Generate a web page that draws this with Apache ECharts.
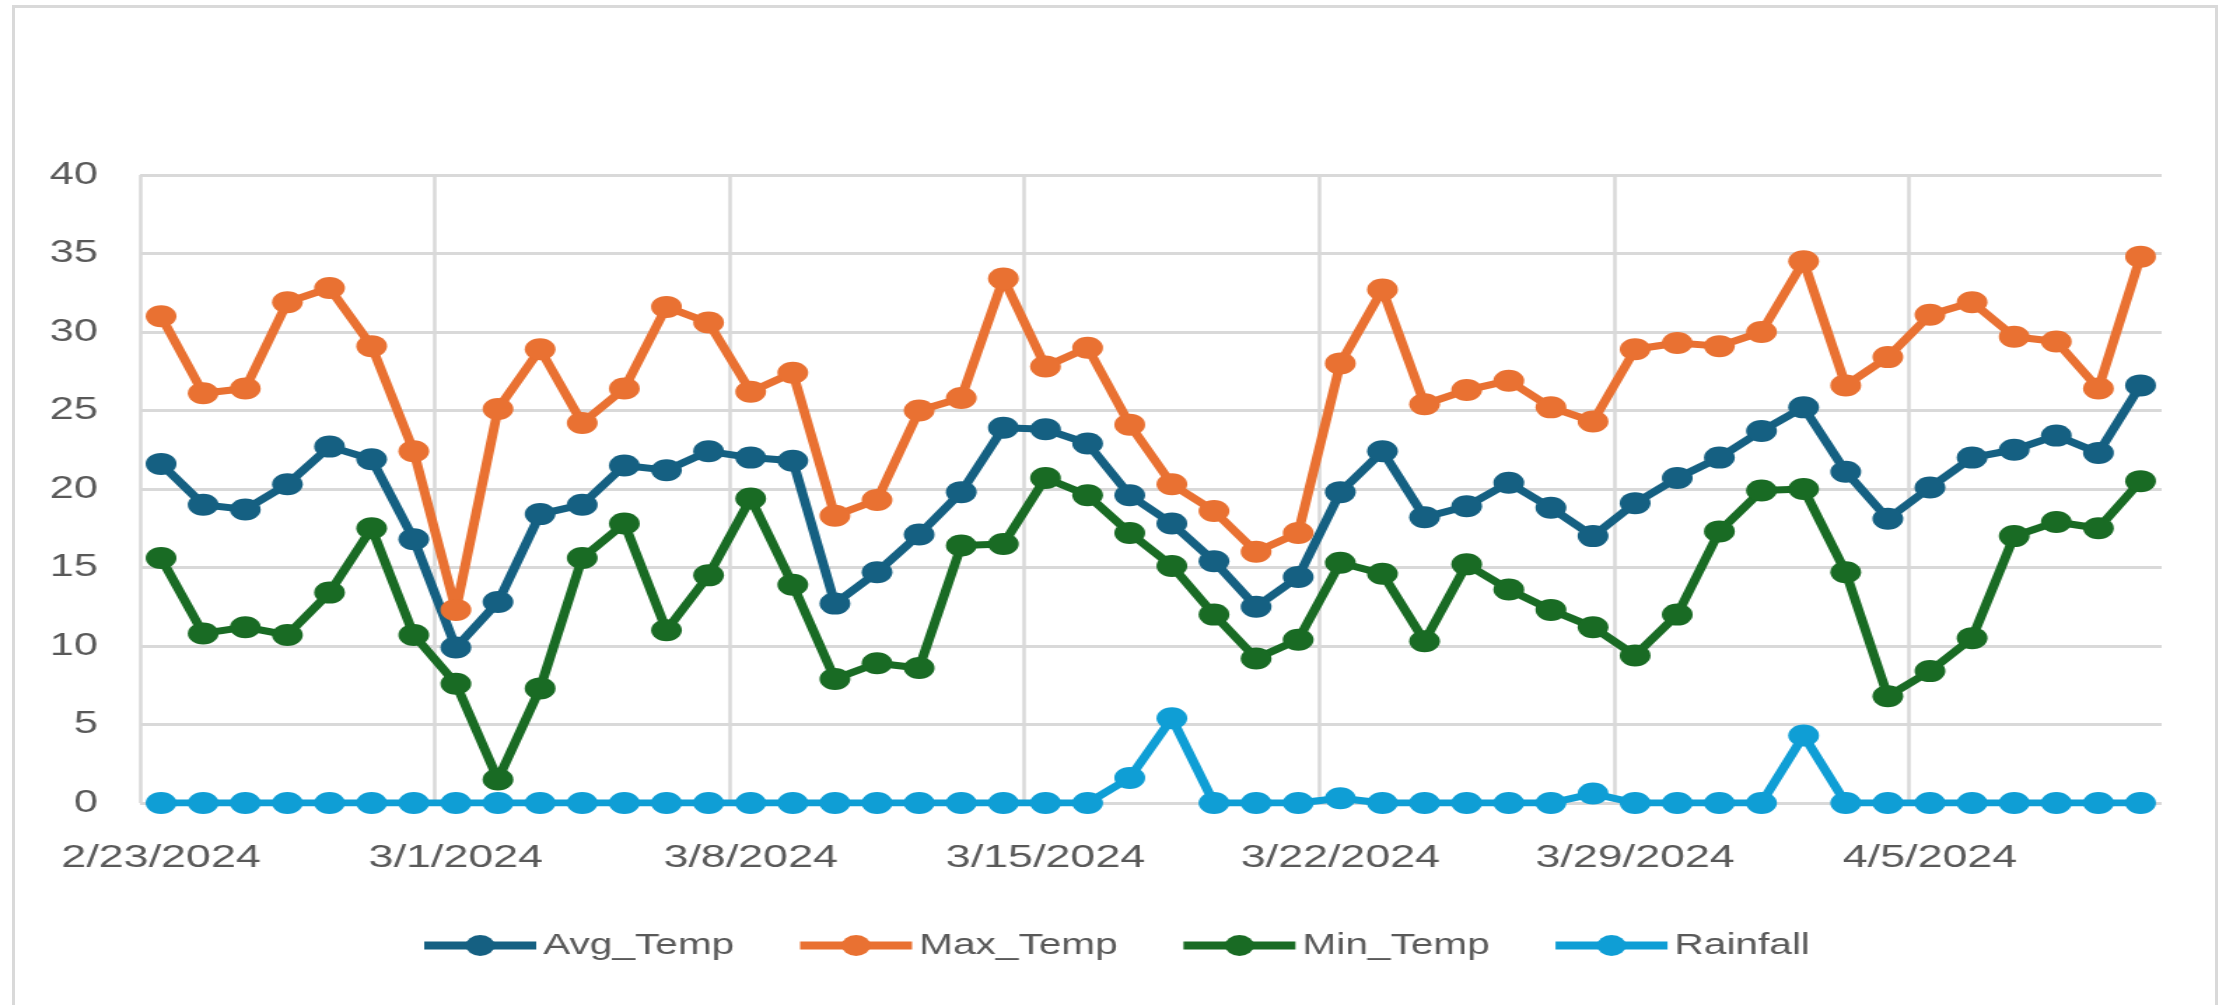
<!DOCTYPE html>
<html>
<head>
<meta charset="utf-8">
<script src="https://cdn.jsdelivr.net/npm/echarts@6/dist/echarts.min.js"></script>
<style>
  html, body { margin: 0; padding: 0; background: #ffffff; overflow: hidden; width: 2231px; height: 1005px; }
  #frame { position: absolute; left: 12px; top: 5px; width: 2206px; height: 1030px; border: 3px solid #d9d9d9; box-sizing: border-box; }
  /* the chart is laid out narrow and widened horizontally */
  #chart { position: absolute; left: 0; top: 0; width: 1594px; height: 1005px; transform: scaleX(1.4); transform-origin: 0 0; }
</style>
</head>
<body>
<div id="frame"></div>
<div id="chart"></div>
<script>
// Daily readings, 2/23/2024 – 4/10/2024
const dates = [
  '2/23/2024', '2/24/2024', '2/25/2024', '2/26/2024', '2/27/2024', '2/28/2024', '2/29/2024',
  '3/1/2024', '3/2/2024', '3/3/2024', '3/4/2024', '3/5/2024', '3/6/2024', '3/7/2024',
  '3/8/2024', '3/9/2024', '3/10/2024', '3/11/2024', '3/12/2024', '3/13/2024', '3/14/2024',
  '3/15/2024', '3/16/2024', '3/17/2024', '3/18/2024', '3/19/2024', '3/20/2024', '3/21/2024',
  '3/22/2024', '3/23/2024', '3/24/2024', '3/25/2024', '3/26/2024', '3/27/2024', '3/28/2024',
  '3/29/2024', '3/30/2024', '3/31/2024', '4/1/2024', '4/2/2024', '4/3/2024', '4/4/2024',
  '4/5/2024', '4/6/2024', '4/7/2024', '4/8/2024', '4/9/2024', '4/10/2024'
];

const avgTemp = [
  21.6, 19.0, 18.7, 20.3, 22.7, 21.9, 16.8,
  9.9, 12.8, 18.4, 19.0, 21.5, 21.2, 22.4,
  22.0, 21.8, 12.7, 14.7, 17.1, 19.8, 23.9,
  23.8, 22.9, 19.6, 17.8, 15.4, 12.5, 14.4,
  19.8, 22.4, 18.2, 18.9, 20.4, 18.8, 17.0,
  19.1, 20.7, 22.0, 23.7, 25.2, 21.1, 18.1,
  20.1, 22.0, 22.5, 23.4, 22.3, 26.6
];

const maxTemp = [
  31.0, 26.1, 26.4, 31.9, 32.8, 29.1, 22.4,
  12.3, 25.1, 28.9, 24.2, 26.4, 31.6, 30.6,
  26.2, 27.4, 18.3, 19.3, 25.0, 25.8, 33.4,
  27.8, 29.0, 24.1, 20.3, 18.6, 16.0, 17.2,
  28.0, 32.7, 25.4, 26.3, 26.9, 25.2, 24.3,
  28.9, 29.3, 29.1, 30.0, 34.5, 26.6, 28.4,
  31.1, 31.9, 29.7, 29.4, 26.4, 34.8
];

const minTemp = [
  15.6, 10.8, 11.2, 10.7, 13.4, 17.5, 10.7,
  7.6, 1.5, 7.3, 15.6, 17.8, 11.0, 14.5,
  19.4, 13.9, 7.9, 8.9, 8.6, 16.4, 16.5,
  20.7, 19.6, 17.2, 15.1, 12.0, 9.2, 10.4,
  15.3, 14.6, 10.3, 15.2, 13.6, 12.3, 11.2,
  9.4, 12.0, 17.3, 19.9, 20.0, 14.7, 6.8,
  8.4, 10.5, 17.0, 17.9, 17.5, 20.5
];

const rainfall = [
  0, 0, 0, 0, 0, 0, 0,
  0, 0, 0, 0, 0, 0, 0,
  0, 0, 0, 0, 0, 0, 0,
  0, 0, 1.6, 5.4, 0, 0, 0,
  0.3, 0, 0, 0, 0, 0, 0.6,
  0, 0, 0, 0, 4.3, 0, 0,
  0, 0, 0, 0, 0, 0
];

const yTicks = [0, 5, 10, 15, 20, 25, 30, 35, 40];

const seriesNames = ['Avg_Temp', 'Max_Temp', 'Min_Temp', 'Rainfall'];
const seriesColors = ['#156082', '#E97132', '#196B24', '#0F9ED5'];
const seriesValues = [avgTemp, maxTemp, minTemp, rainfall];

const textColor = '#595959';
const gridColor = '#d9d9d9';
const fontFamily = '"Liberation Sans", Arial, sans-serif';

const chart = echarts.init(document.getElementById('chart'));

chart.setOption({
  animation: false,
  grid: { left: 100, right: 50, top: 175, bottom: 202, containLabel: false },
  legend: {
    data: seriesNames,
    left: 294,
    top: 926,
    itemWidth: 80,
    itemHeight: 26,
    itemGap: 43,
    lineStyle: { width: 8 },
    textStyle: { color: textColor, fontSize: 29, fontFamily: fontFamily }
  },
  xAxis: {
    type: 'category',
    data: dates,
    boundaryGap: true,
    axisLine: { show: false },
    axisTick: { show: false },
    axisLabel: {
      interval: 6,
      color: textColor,
      fontSize: 32,
      lineHeight: 32,
      fontFamily: fontFamily,
      margin: 39
    },
    splitLine: {
      show: true,
      interval: 6,
      showMaxLine: false,
      lineStyle: { color: gridColor, width: 2.5 }
    }
  },
  yAxis: {
    type: 'value',
    min: yTicks[0],
    max: yTicks[yTicks.length - 1],
    interval: yTicks[1] - yTicks[0],
    axisLine: { show: false },
    axisTick: { show: false },
    axisLabel: { color: textColor, fontSize: 31, fontFamily: fontFamily, margin: 30 },
    splitLine: { show: true, lineStyle: { color: gridColor, width: 3 } }
  },
  series: seriesNames.map((name, i) => ({
    name: name,
    type: 'line',
    data: seriesValues[i],
    symbol: 'circle',
    symbolSize: 22,
    showAllSymbol: true,
    color: seriesColors[i],
    lineStyle: { color: seriesColors[i], width: 7 },
    itemStyle: { color: seriesColors[i] },
    emphasis: { disabled: true }
  }))
});
</script>
</body>
</html>
